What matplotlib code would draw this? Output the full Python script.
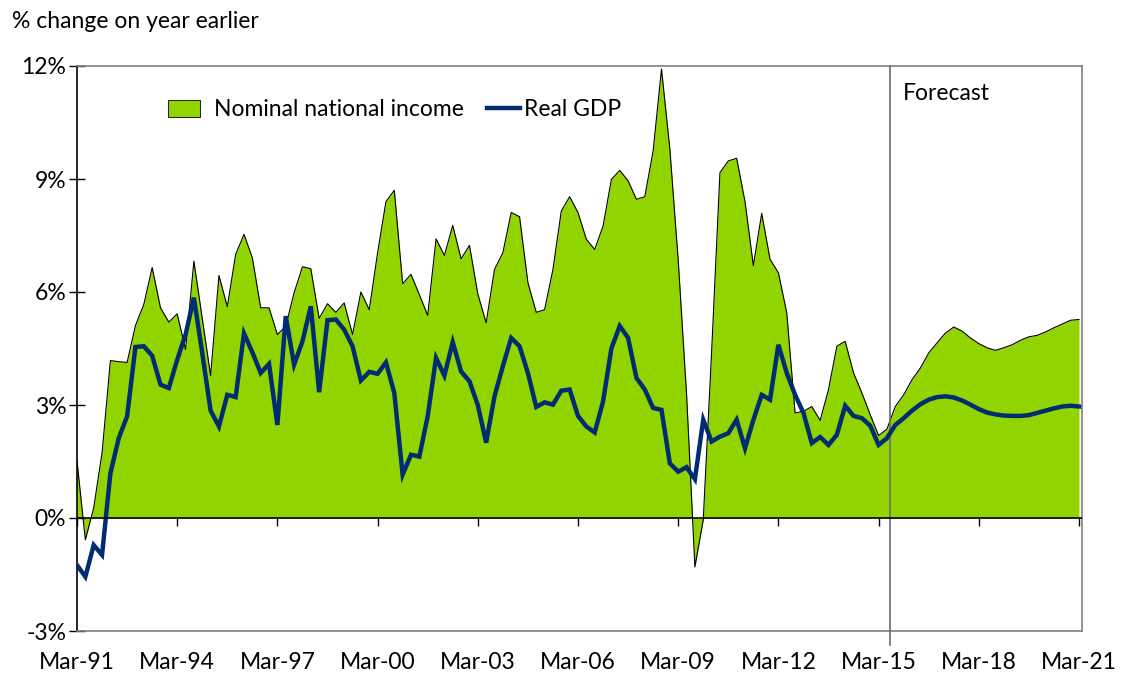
import numpy as np
import matplotlib
matplotlib.use("Agg")
import matplotlib.pyplot as plt
from matplotlib.patches import Patch
from matplotlib.lines import Line2D

# quarterly, Mar-91 .. Mar-21 (% change on year earlier)
nominal_income = [
    1.52, -0.58, 0.27, 1.73, 4.18, 4.15, 4.13, 5.11, 5.67, 6.65,
    5.58, 5.20, 5.42, 4.47, 6.82, 5.30, 3.78, 6.44, 5.61, 7.00,
    7.53, 6.91, 5.58, 5.58, 4.87, 5.09, 5.98, 6.67, 6.62, 5.30,
    5.69, 5.46, 5.71, 4.87, 6.00, 5.53, 7.04, 8.40, 8.70, 6.22,
    6.47, 5.93, 5.38, 7.41, 6.97, 7.77, 6.88, 7.24, 5.95, 5.18,
    6.60, 7.04, 8.11, 8.00, 6.25, 5.46, 5.53, 6.60, 8.15, 8.53,
    8.11, 7.40, 7.13, 7.75, 8.99, 9.23, 8.95, 8.46, 8.53, 9.75,
    11.92, 9.80, 6.85, 3.30, -1.30, -0.05, 4.40, 9.17, 9.48, 9.55,
    8.40, 6.70, 8.09, 6.87, 6.51, 5.45, 2.79, 2.83, 2.96, 2.59,
    3.41, 4.56, 4.69, 3.85, 3.32, 2.74, 2.19, 2.36, 2.96, 3.27,
    3.67, 3.98, 4.38, 4.65, 4.91, 5.07, 4.96, 4.78, 4.63, 4.52,
    4.45, 4.52, 4.60, 4.72, 4.81, 4.85, 4.94, 5.05, 5.15, 5.25,
    5.27,
]
real_gdp = [
    -1.25, -1.56, -0.72, -0.98, 1.19, 2.12, 2.70, 4.54, 4.56, 4.31,
    3.54, 3.45, 4.20, 4.87, 5.85, 4.38, 2.85, 2.43, 3.27, 3.21,
    4.90, 4.40, 3.85, 4.09, 2.47, 5.36, 4.07, 4.69, 5.62, 3.34,
    5.25, 5.27, 5.00, 4.56, 3.65, 3.88, 3.83, 4.13, 3.32, 1.15,
    1.68, 1.63, 2.70, 4.25, 3.78, 4.67, 3.89, 3.63, 3.00, 2.00,
    3.23, 4.03, 4.78, 4.56, 3.85, 2.95, 3.07, 3.01, 3.38, 3.41,
    2.71, 2.43, 2.27, 3.09, 4.50, 5.10, 4.78, 3.72, 3.41, 2.92,
    2.87, 1.45, 1.23, 1.35, 1.03, 2.61, 2.03, 2.16, 2.25, 2.61,
    1.85, 2.60, 3.27, 3.14, 4.60, 3.85, 3.27, 2.79, 1.99, 2.15,
    1.94, 2.21, 2.98, 2.71, 2.65, 2.45, 1.94, 2.12, 2.47, 2.65,
    2.85, 3.02, 3.14, 3.21, 3.23, 3.20, 3.12, 3.01, 2.89, 2.80,
    2.75, 2.72, 2.71, 2.71, 2.73, 2.79, 2.85, 2.91, 2.96, 2.98,
    2.96,
]
tick_labels = ["Mar-91", "Mar-94", "Mar-97", "Mar-00", "Mar-03", "Mar-06",
               "Mar-09", "Mar-12", "Mar-15", "Mar-18", "Mar-21"]
y_ticks = [-3, 0, 3, 6, 9, 12]
forecast_start = 97.4  # quarter index where the forecast begins

GREEN = "#92d400"
NAVY = "#002d72"
FONT = "Lato"
FS = 16.5

plt.rcParams["font.family"] = [FONT, "DejaVu Sans"]

fig = plt.figure(figsize=(11.23, 6.74), dpi=100)
ax = fig.add_axes([77 / 1123, 1 - 631 / 674, (1082 - 77) / 1123, (631 - 66) / 674])

x = np.arange(len(nominal_income))
ax.fill_between(x, 0, nominal_income, color=GREEN, lw=0, zorder=1)
ax.plot(x, nominal_income, color="black", lw=0.8, zorder=2)
ax.plot([forecast_start] * 2, [-3.37, 12], color="#6b6b6b", lw=1.2,
        clip_on=False, zorder=3)
ax.plot(x, real_gdp, color=NAVY, lw=3.2, zorder=4, solid_joinstyle="miter")
ax.axhline(0, color="black", lw=1.2, zorder=5)

ax.set_xlim(0, 120.36)
ax.set_ylim(-3, 12)

ax.set_yticks(y_ticks)
ax.set_yticklabels([f"{v}%" for v in y_ticks])
ax.tick_params(axis="y", direction="inout", length=11.5, width=1,
               labelsize=FS, pad=2)

ax.set_xticks(np.arange(0, 121, 12))
ax.set_xticklabels(tick_labels)
ax.tick_params(axis="x", length=0, labelsize=FS, pad=15)

for side in ["top", "right", "bottom"]:
    ax.spines[side].set_color("#808080")
    ax.spines[side].set_linewidth(1.2)
ax.spines["left"].set_color("black")
ax.spines["left"].set_linewidth(1.2)

# tick marks hanging off the zero line
sec = ax.secondary_xaxis(0.2)
sec.set_xticks(np.arange(0, 121, 12))
sec.tick_params(direction="out", length=6, width=1, labelbottom=False)
sec.spines["bottom"].set_visible(False)

leg1 = ax.legend(handles=[Patch(facecolor=GREEN, edgecolor="black", lw=0.6)],
                 labels=["Nominal national income"], frameon=False,
                 fontsize=FS, loc="center left", handlelength=1.4,
                 handleheight=0.7, handletextpad=0.6,
                 bbox_to_anchor=(168 / 1123, 1 - 110 / 674),
                 bbox_transform=fig.transFigure, borderpad=0, borderaxespad=0)
ax.add_artist(leg1)
ax.legend(handles=[Line2D([], [], color=NAVY, lw=3.2)], labels=["Real GDP"],
          frameon=False, fontsize=FS, loc="center left", handlelength=1.45,
          handletextpad=0.17, bbox_to_anchor=(487 / 1123, 1 - 110 / 674),
          bbox_transform=fig.transFigure, borderpad=0, borderaxespad=0)

ax.text(903 / 1123, 1 - 94 / 674, "Forecast", transform=fig.transFigure,
        fontsize=FS, va="center", ha="left")
fig.text(12 / 1123, 1 - 22 / 674, "% change on year earlier", fontsize=FS,
         va="center", ha="left")

fig.savefig("out.png", dpi=100)
